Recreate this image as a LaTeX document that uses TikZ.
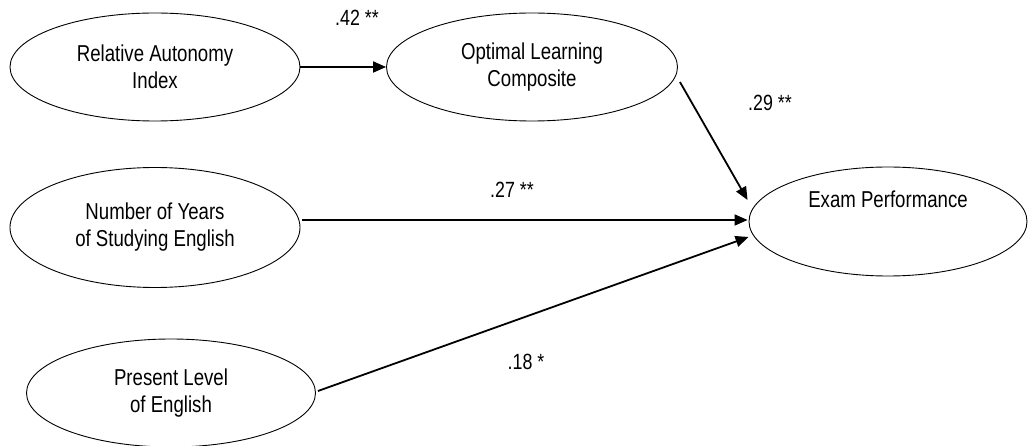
\documentclass[tikz,border=0pt]{standalone}
\usepackage{fontspec}
\setmainfont{Liberation Sans}[FakeStretch=0.81]
\usetikzlibrary{shapes.geometric,arrows.meta,calc}
\begin{document}
\begin{tikzpicture}[x=1pt,y=-1pt,
  var/.style={ellipse,draw,line width=0.9pt,inner sep=0pt,align=center,
    font=\fontsize{23}{27}\selectfont},
  conn/.style={line width=1.8pt,-{Triangle[length=13pt,width=11pt]}},
  coef/.style={font=\fontsize{22}{26}\selectfont,inner sep=0pt}]
\useasboundingbox (0,0) rectangle (1028,446);
\node[var,minimum width=290pt,minimum height=108pt] (rai) at (155,67) {Relative Autonomy\\Index};
\node[var,minimum width=291pt,minimum height=108pt] (olc) at (532,67) {Optimal Learning\\Composite};
\node[var,minimum width=290pt,minimum height=120pt] (nyse) at (155,227.5) {Number of Years\\of Studying English};
\node[var,minimum width=289pt,minimum height=108pt] (ple) at (171,393) {Present Level\\of English};
\node[var,minimum width=278pt,minimum height=109pt] (ep) at (888,221.5) {Exam Performance\\[10pt]\strut};
\draw[conn] (rai.east) -- (olc.west);
\draw[conn] ($(olc.east)+(2,15)$) -- ($(ep.west)+(-1,-21.5)$);
\draw[conn] ($(nyse.east)+(2,-7.5)$) -- ($(ep.west)+(-1,-1.5)$);
\draw[conn] ($(ple.east)+(2,-2)$) -- ($(ep.west)+(0,15.5)$);
\node[coef] (l1) at (357,18) {.42 **};
\node[coef] (l2) at (770,103) {.29 **};
\node[coef] (l3) at (512,190) {.27 **};
\node[coef] (l4) at (526,362) {.18 *};
\end{tikzpicture}
\end{document}
